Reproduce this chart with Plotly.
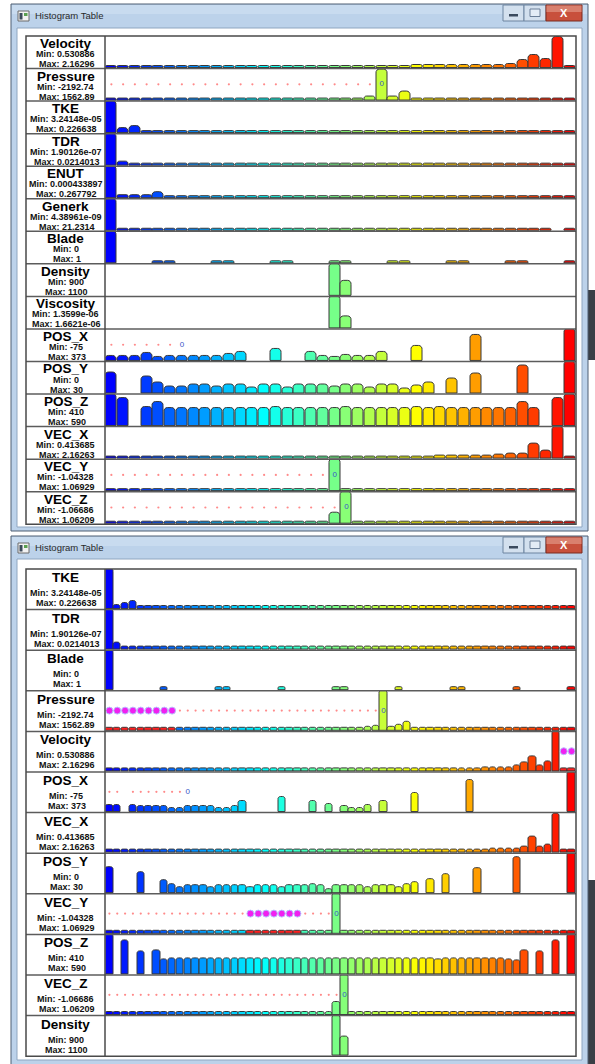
import plotly.graph_objects as go

W, H = 595, 1064
X = None

# ---------------- data: top window (40 bins) ----------------
TOP_NAMES = ["Velocity", "Pressure", "TKE", "TDR", "ENUT", "Generk", "Blade", "Density",
             "Viscosity", "POS_X", "POS_Y", "POS_Z", "VEC_X", "VEC_Y", "VEC_Z"]
TOP_MIN = ["0.530886", "-2192.74", "3.24148e-05", "1.90126e-07", "0.000433897", "4.38961e-09",
           "0", "900", "1.3599e-06", "-75", "0", "410", "0.413685", "-1.04328", "-1.06686"]
TOP_MAX = ["2.16296", "1562.89", "0.226638", "0.0214013", "0.267792", "21.2314",
           "1", "1100", "1.6621e-06", "373", "30", "590", "2.16263", "1.06929", "1.06209"]

T_VELOCITY = [0.06, 0.06, 0.06, 0.06, 0.06, 0.06, 0.06, 0.06, 0.06, 0.06,
              0.06, 0.06, 0.06, 0.06, 0.06, 0.06, 0.06, 0.06, 0.06, 0.06,
              0.06, 0.06, 0.06, 0.06, 0.06, 0.06, 0.07, 0.07, 0.07, 0.08,
              0.08, 0.08, 0.09, 0.09, 0.10, 0.25, 0.40, 0.28, 0.97, 0.06]
T_PRESSURE = [0.06, 0.06, 0.06, 0.06, 0.06, 0.06, 0.06, 0.06, 0.06, 0.06,
              0.06, 0.06, 0.06, 0.06, 0.06, 0.06, 0.06, 0.06, 0.06, 0.06,
              0.06, 0.06, 0.10, 0.97, 0.10, 0.27, 0.06, 0.06, 0.06, 0.06,
              0.06, 0.06, 0.06, 0.06, 0.06, 0.06, 0.06, 0.06, 0.06, 0.06]
T_TKE = [1.00, 0.16, 0.22, 0.06, 0.06, 0.06, 0.06, 0.06, 0.06, 0.06,
         0.06, 0.06, 0.06, 0.06, 0.06, 0.06, 0.06, 0.06, 0.06, 0.06,
         0.06, 0.06, 0.06, 0.06, 0.06, 0.06, 0.06, 0.06, 0.06, 0.06,
         0.06, 0.06, 0.06, 0.06, 0.06, 0.06, 0.06, 0.06, 0.06, 0.06]
T_TDR = [1.00, 0.10, 0.06, 0.06, 0.06, 0.06, 0.06, 0.06, 0.06, 0.06,
         0.06, 0.06, 0.06, 0.06, 0.06, 0.06, 0.06, 0.06, 0.06, 0.06,
         0.06, 0.06, 0.06, 0.06, 0.06, 0.06, 0.06, 0.06, 0.06, 0.06,
         0.06, 0.06, 0.06, 0.06, 0.06, 0.06, 0.06, 0.06, 0.06, 0.06]
T_ENUT = [1.00, 0.07, 0.08, 0.09, 0.17, 0.06, 0.06, 0.06, 0.06, 0.06,
          0.06, 0.06, 0.06, 0.06, 0.06, 0.06, 0.06, 0.06, 0.06, 0.06,
          0.06, 0.06, 0.06, 0.06, 0.06, 0.06, 0.06, 0.06, 0.06, 0.06,
          0.06, 0.06, 0.06, 0.06, 0.06, 0.06, 0.06, 0.06, 0.06, 0.06]
T_GENERK = [1.00, 0.06, 0.06, 0.06, 0.06, 0.06, 0.06, 0.06, 0.06, 0.06,
            0.06, 0.06, 0.06, 0.06, 0.06, 0.06, 0.06, 0.06, 0.06, 0.06,
            0.06, 0.06, 0.06, 0.06, 0.06, 0.06, 0.06, 0.06, 0.06, 0.06,
            0.06, 0.06, 0.06, 0.06, 0.06, 0.06, 0.06, 0.06, X, 0.06]
T_BLADE = [1.00, X, X, X, 0.06, 0.06, X, X, X, 0.06,
           0.06, X, X, X, 0.06, 0.06, X, X, X, 0.06,
           0.06, X, X, X, 0.06, 0.06, X, X, X, 0.06,
           0.06, X, X, X, 0.06, 0.06, X, X, X, 0.06]
T_DENSITY = [X, X, X, X, X, X, X, X, X, X,
             X, X, X, X, X, X, X, X, X, 1.00,
             0.45, X, X, X, X, X, X, X, X, X,
             X, X, X, X, X, X, X, X, X, X]
T_VISCOSITY = [X, X, X, X, X, X, X, X, X, X,
               X, X, X, X, X, X, X, X, X, 1.00,
               0.38, X, X, X, X, X, X, X, X, X,
               X, X, X, X, X, X, X, X, X, X]
T_POS_X = [0.16, 0.16, 0.16, 0.25, 0.12, 0.16, 0.16, 0.16, 0.16, 0.16,
           0.20, 0.28, X, X, 0.38, X, X, 0.28, 0.13, 0.10,
           0.18, 0.13, 0.15, 0.28, X, X, 0.47, X, X, X,
           X, 0.80, X, X, X, X, X, X, X, 1.00]
T_POS_Y = [0.64, X, X, 0.52, 0.33, 0.20, 0.20, 0.28, 0.28, 0.20,
           0.28, 0.28, 0.17, 0.28, 0.28, 0.17, 0.28, 0.28, 0.28, 0.20,
           0.28, 0.28, 0.17, 0.28, 0.28, 0.15, 0.25, 0.33, X, 0.45,
           X, 0.63, X, X, X, 0.88, X, X, X, 1.00]
T_POS_Z = [1.00, 0.87, X, 0.58, 0.75, 0.56, 0.56, 0.57, 0.56, 0.57,
           0.56, 0.57, 0.56, 0.57, 0.60, 0.57, 0.56, 0.57, 0.56, 0.57,
           0.60, 0.57, 0.56, 0.57, 0.56, 0.57, 0.60, 0.56, 0.60, 0.57,
           0.56, 0.57, 0.56, 0.57, 0.56, 0.75, 0.56, X, 0.87, 1.00]
T_VEC_X = [0.06, 0.06, 0.06, 0.06, 0.06, 0.06, 0.06, 0.06, 0.06, 0.06,
           0.06, 0.06, 0.06, 0.06, 0.06, 0.06, 0.06, 0.06, 0.06, 0.06,
           0.06, 0.06, 0.06, 0.06, 0.06, 0.06, 0.06, 0.06, 0.07, 0.07,
           0.07, 0.08, 0.08, 0.10, 0.14, 0.15, 0.47, 0.23, 1.00, 0.06]
T_VEC_Y = [0.06, 0.06, 0.06, 0.06, 0.06, 0.06, 0.06, 0.06, 0.06, 0.06,
           0.06, 0.06, 0.06, 0.06, 0.06, 0.06, 0.06, 0.06, 0.06, 1.00,
           0.06, 0.06, 0.06, 0.06, 0.06, 0.06, 0.06, 0.06, 0.06, 0.06,
           0.06, 0.06, 0.06, 0.06, 0.06, 0.06, 0.06, 0.06, 0.06, 0.06]
T_VEC_Z = [0.06, 0.06, 0.06, 0.06, 0.06, 0.06, 0.06, 0.06, 0.06, 0.06,
           0.06, 0.06, 0.06, 0.06, 0.06, 0.06, 0.06, 0.06, 0.06, 0.33,
           1.00, 0.06, 0.06, 0.06, 0.06, 0.06, 0.06, 0.06, 0.06, 0.06,
           0.06, 0.06, 0.06, 0.06, 0.06, 0.06, 0.06, 0.06, 0.06, 0.06]

TOP_VALUES = [T_VELOCITY, T_PRESSURE, T_TKE, T_TDR, T_ENUT, T_GENERK, T_BLADE, T_DENSITY,
              T_VISCOSITY, T_POS_X, T_POS_Y, T_POS_Z, T_VEC_X, T_VEC_Y, T_VEC_Z]
TOP_SELECTED = [[] for _ in TOP_NAMES]

# ---------------- data: bottom window (60 bins) ----------------
BOT_NAMES = ["TKE", "TDR", "Blade", "Pressure", "Velocity", "POS_X", "VEC_X", "POS_Y",
             "VEC_Y", "POS_Z", "VEC_Z", "Density"]
BOT_MIN = ["3.24148e-05", "1.90126e-07", "0", "-2192.74", "0.530886", "-75", "0.413685", "0",
           "-1.04328", "410", "-1.06686", "900"]
BOT_MAX = ["0.226638", "0.0214013", "1", "1562.89", "2.16296", "373", "2.16263", "30",
           "1.06929", "590", "1.06209", "1100"]

B_TKE = [1.00, 0.10, 0.13, 0.20, 0.06, 0.06, 0.06, 0.06, 0.06, 0.06,
         0.06, 0.06, 0.06, 0.06, 0.06, 0.06, 0.06, 0.06, 0.06, 0.06,
         0.06, 0.06, 0.06, 0.06, 0.06, 0.06, 0.06, 0.06, 0.06, 0.06,
         0.06, 0.06, 0.06, 0.06, 0.06, 0.06, 0.06, 0.06, 0.06, 0.06,
         0.06, 0.06, 0.06, 0.06, 0.06, 0.06, 0.06, 0.06, 0.06, 0.06,
         0.06, 0.06, 0.06, 0.06, 0.06, 0.06, 0.06, 0.06, 0.06, 0.06]
B_TDR = [1.00, 0.17, 0.06, 0.06, 0.06, 0.06, 0.06, 0.06, 0.06, 0.06,
         0.06, 0.06, 0.06, 0.06, 0.06, 0.06, 0.06, 0.06, 0.06, 0.06,
         0.06, 0.06, 0.06, 0.06, 0.06, 0.06, 0.06, 0.06, 0.06, 0.06,
         0.06, 0.06, 0.06, 0.06, 0.06, 0.06, 0.06, 0.06, 0.06, 0.06,
         0.06, 0.06, 0.06, 0.06, 0.06, 0.06, 0.06, 0.06, 0.06, 0.06,
         0.06, 0.06, 0.06, 0.06, 0.06, 0.06, 0.06, 0.06, 0.06, 0.06]
B_BLADE = [1.00, X, X, X, X, X, X, 0.06, X, X,
           X, X, X, X, 0.06, 0.06, X, X, X, X,
           X, X, 0.06, X, X, X, X, X, X, 0.06,
           0.06, X, X, X, X, X, X, 0.06, X, X,
           X, X, X, X, 0.06, 0.06, X, X, X, X,
           X, X, 0.06, X, X, X, X, X, X, 0.06]
B_PRESSURE = [0.06, 0.06, 0.06, 0.06, 0.06, 0.06, 0.06, 0.06, 0.06, 0.06,
              0.06, 0.06, 0.06, 0.06, 0.06, 0.06, 0.06, 0.06, 0.06, 0.06,
              0.06, 0.06, 0.06, 0.06, 0.06, 0.06, 0.06, 0.06, 0.06, 0.06,
              0.06, 0.06, 0.06, 0.08, 0.12, 1.00, 0.10, 0.13, 0.23, 0.06,
              0.06, 0.06, 0.06, 0.06, 0.06, 0.06, 0.06, 0.06, 0.06, 0.06,
              0.06, 0.06, 0.06, 0.06, 0.06, 0.06, 0.06, 0.06, 0.06, 0.06]
B_VELOCITY = [0.06, 0.06, 0.06, 0.06, 0.06, 0.06, 0.06, 0.06, 0.06, 0.06,
              0.06, 0.06, 0.06, 0.06, 0.06, 0.06, 0.06, 0.06, 0.06, 0.06,
              0.06, 0.06, 0.06, 0.06, 0.06, 0.06, 0.06, 0.06, 0.06, 0.06,
              0.06, 0.06, 0.06, 0.06, 0.06, 0.06, 0.06, 0.06, 0.06, 0.06,
              0.06, 0.06, 0.06, 0.06, 0.06, 0.07, 0.07, 0.07, 0.08, 0.08,
              0.09, 0.10, 0.13, 0.23, 0.38, 0.15, 0.24, 0.99, 0.06, 0.06]
B_POS_X = [0.16, 0.16, X, 0.16, 0.15, 0.14, 0.14, 0.14, 0.10, 0.10,
           0.15, 0.15, 0.15, 0.15, 0.10, 0.10, 0.14, 0.28, X, X,
           X, X, 0.37, X, X, X, 0.27, X, 0.19, X,
           0.13, 0.10, 0.10, 0.16, X, 0.27, X, X, X, 0.46,
           X, X, X, X, X, X, 0.80, X, X, X,
           X, X, X, X, X, X, X, X, X, 1.00]
B_VEC_X = [0.06, 0.06, 0.06, 0.06, 0.06, 0.06, 0.06, 0.06, 0.06, 0.06,
           0.06, 0.06, 0.06, 0.06, 0.06, 0.06, 0.06, 0.06, 0.06, 0.06,
           0.06, 0.06, 0.06, 0.06, 0.06, 0.06, 0.06, 0.06, 0.06, 0.06,
           0.06, 0.06, 0.06, 0.06, 0.06, 0.06, 0.06, 0.06, 0.06, 0.06,
           0.06, 0.06, 0.06, 0.06, 0.06, 0.06, 0.07, 0.07, 0.07, 0.08,
           0.08, 0.09, 0.10, 0.14, 0.40, 0.14, 0.18, 0.97, 0.06, 0.06]
B_POS_Y = [0.65, X, X, X, 0.52, X, X, 0.32, 0.21, 0.13,
           0.20, 0.20, 0.20, 0.15, 0.20, 0.20, 0.20, 0.20, 0.15, 0.20,
           0.20, 0.20, 0.15, 0.20, 0.20, 0.20, 0.21, 0.20, 0.10, 0.20,
           0.20, 0.20, 0.20, 0.13, 0.20, 0.20, 0.20, 0.13, 0.21, 0.26,
           X, 0.34, X, 0.46, X, X, X, 0.63, X, X,
           X, X, 0.90, X, X, X, X, X, X, 1.00]
B_VEC_Y = [0.06, 0.06, 0.06, 0.06, 0.06, 0.06, 0.06, 0.06, 0.06, 0.06,
           0.06, 0.06, 0.06, 0.06, 0.06, 0.06, 0.06, 0.06, 0.06, 0.06,
           0.06, 0.06, 0.06, 0.06, 0.06, 0.06, 0.06, 0.06, 0.06, 1.00,
           0.06, 0.06, 0.06, 0.06, 0.06, 0.06, 0.06, 0.06, 0.06, 0.06,
           0.06, 0.06, 0.06, 0.06, 0.06, 0.06, 0.06, 0.06, 0.06, 0.06,
           0.06, 0.06, 0.06, 0.06, 0.06, 0.06, 0.06, 0.06, 0.06, 0.06]
B_POS_Z = [1.00, X, 0.86, X, 0.57, X, 0.60, 0.38, 0.39, 0.40,
           0.39, 0.40, 0.39, 0.40, 0.39, 0.40, 0.40, 0.39, 0.40, 0.39,
           0.40, 0.39, 0.40, 0.40, 0.39, 0.40, 0.39, 0.40, 0.39, 0.40,
           0.39, 0.40, 0.39, 0.40, 0.40, 0.39, 0.40, 0.39, 0.40, 0.39,
           0.40, 0.39, 0.38, 0.40, 0.39, 0.40, 0.39, 0.40, 0.39, 0.40,
           0.39, 0.38, 0.35, 0.60, X, 0.57, X, 0.86, X, 1.00]
B_VEC_Z = [0.06, 0.06, 0.06, 0.06, 0.06, 0.06, 0.06, 0.06, 0.06, 0.06,
           0.06, 0.06, 0.06, 0.06, 0.06, 0.06, 0.06, 0.06, 0.06, 0.06,
           0.06, 0.06, 0.06, 0.06, 0.06, 0.06, 0.06, 0.06, 0.07, 0.32,
           1.00, 0.06, 0.06, 0.06, 0.06, 0.06, 0.06, 0.06, 0.06, 0.06,
           0.06, 0.06, 0.06, 0.06, 0.06, 0.06, 0.06, 0.06, 0.06, 0.06,
           0.06, 0.06, 0.06, 0.06, 0.06, 0.06, 0.06, 0.06, 0.06, 0.06]
B_DENSITY = [X, X, X, X, X, X, X, X, X, X,
             X, X, X, X, X, X, X, X, X, X,
             X, X, X, X, X, X, X, X, X, 1.00,
             0.46, X, X, X, X, X, X, X, X, X,
             X, X, X, X, X, X, X, X, X, X,
             X, X, X, X, X, X, X, X, X, X]

BOT_VALUES = [B_TKE, B_TDR, B_BLADE, B_PRESSURE, B_VELOCITY, B_POS_X, B_VEC_X, B_POS_Y,
              B_VEC_Y, B_POS_Z, B_VEC_Z, B_DENSITY]
B_PRESSURE_SEL = [0, 1, 2, 3, 4, 5, 6, 7, 8]
B_VELOCITY_SEL = [58, 59]
B_VEC_Y_SEL = [18, 19, 20, 21, 22, 23, 24]
BOT_SELECTED = [[], [], [], B_PRESSURE_SEL, B_VELOCITY_SEL, [], [], [], B_VEC_Y_SEL, [], [], []]


# ---------------- helpers ----------------
def ramp(t):
    stops = [(0.0, (0, 0, 255)), (1 / 3, (0, 255, 255)), (2 / 3, (255, 255, 0)), (1.0, (255, 0, 0))]
    for (t0, c0), (t1, c1) in zip(stops[:-1], stops[1:]):
        if t <= t1 + 1e-9:
            f = (t - t0) / (t1 - t0)
            return "rgb(%d,%d,%d)" % tuple(round(a + (b - a) * f) for a, b in zip(c0, c1))
    return "rgb(255,0,0)"


def px(x):
    return x / W


def py(y):
    return 1 - y / H


shapes = []
annos = []


def rect(x0, y0, x1, y1, fill=None, line=None, lw=1, layer="below"):
    shapes.append(dict(type="rect", xref="paper", yref="paper", x0=px(x0), x1=px(x1),
                       y0=py(y1), y1=py(y0), fillcolor=fill or "rgba(0,0,0,0)",
                       line=dict(color=line or "rgba(0,0,0,0)", width=lw if line else 0),
                       layer=layer))


def hline(x0, x1, y, color, lw, layer="below"):
    shapes.append(dict(type="line", xref="paper", yref="paper", x0=px(x0), x1=px(x1),
                       y0=py(y), y1=py(y), line=dict(color=color, width=lw), layer=layer))


def vline(x, y0, y1, color, lw, layer="below"):
    shapes.append(dict(type="line", xref="paper", yref="paper", x0=px(x), x1=px(x),
                       y0=py(y0), y1=py(y1), line=dict(color=color, width=lw), layer=layer))


def text(x, y, s, size, color="#000", anchor="center", family="Liberation Sans, Arial, sans-serif"):
    annos.append(dict(x=px(x), y=py(y), xref="paper", yref="paper", text=s, showarrow=False,
                      xanchor=anchor, yanchor="middle", font=dict(size=size, color=color, family=family)))


LEFT, SPLIT, RIGHT = 26, 105, 576

fig = go.Figure()
layout_axes = {}
axis_count = [0]


def draw_window(ftop, fbot, ctop, cbot, ttop, row_h, names, mins, maxs, values, selected,
                n, radius, name_dy, min_dy, max_dy):
    # window chrome
    rect(11, ftop, 588, fbot, fill="#bcd2ea", line="#4f5f72", lw=1)
    rect(12, ftop + 1, 587, ftop + 10, fill="#c8dbef")
    rect(17, ctop, 582, cbot, fill="#ffffff", line="#8fa6c0", lw=1)
    # icon
    rect(18, ftop + 7, 29, ftop + 17, fill="#f2f2f2", line="#6a6a6a", lw=1)
    rect(19.5, ftop + 9, 22.5, ftop + 15.5, fill="#3c4a5a")
    rect(24, ftop + 9, 27.5, ftop + 12, fill="#5aa050")
    text(33, ftop + 11, "Histogram Table", 9.5, "#2a2a2a", "left")
    # buttons
    rect(503, ftop + 1, 524, ftop + 17, fill="#d3e0ee", line="#6d84a0", lw=1)
    rect(524, ftop + 1, 546, ftop + 17, fill="#d3e0ee", line="#6d84a0", lw=1)
    rect(546, ftop + 1, 582, ftop + 17, fill="#c8503c", line="#7a2b1f", lw=1)
    rect(546.5, ftop + 1.5, 581.5, ftop + 8, fill="#d9806e")
    rect(509, ftop + 10, 518, ftop + 12.5, fill="#3a4a5e")
    rect(530, ftop + 5, 540, ftop + 12.5, fill="#e3ecf6", line="#6b7f98", lw=1)
    text(564, ftop + 9, "<b>X</b>", 11, "#ffffff")
    # table
    nrows = len(names)
    tbot = ttop + row_h * nrows
    rect(LEFT, ttop, RIGHT, tbot, fill="#ffffff")
    for r in range(nrows):
        rt = ttop + r * row_h
        rb = rt + row_h
        vals = values[r]
        sel = selected[r]
        axis_count[0] += 1
        k = axis_count[0]
        xa = "xaxis" if k == 1 else "xaxis%d" % k
        ya = "yaxis" if k == 1 else "yaxis%d" % k
        xr = "x" if k == 1 else "x%d" % k
        yr = "y" if k == 1 else "y%d" % k
        pad = 1.0 / row_h
        layout_axes[xa] = dict(domain=[px(SPLIT + 0.5), px(RIGHT - 0.5)], range=[-0.5, n - 0.5],
                               visible=False, anchor=yr, fixedrange=True)
        layout_axes[ya] = dict(domain=[py(rb), py(rt)], range=[-pad, 1.0],
                               visible=False, anchor=xr, fixedrange=True)
        colors = []
        for i in range(n):
            colors.append("#ff2020" if i in sel else ramp(i / (n - 1)))
        fig.add_trace(go.Bar(x=list(range(n)), y=vals, xaxis=xr, yaxis=yr, width=0.92,
                             marker=dict(color=colors, line=dict(color="#383838", width=1),
                                         cornerradius=radius),
                             hoverinfo="skip", showlegend=False))
        # zero marker and dotted guide for signed ranges
        mn, mx = float(mins[r]), float(maxs[r])
        if mn < 0 < mx:
            zb = int(-mn / (mx - mn) * n)
            dx = [i for i in range(zb) if vals[i] is not None and i not in sel]
            fig.add_trace(go.Scatter(x=dx, y=[0.5] * len(dx), xaxis=xr, yaxis=yr, mode="markers",
                                     marker=dict(size=2.2, color="#ff8a8a"),
                                     hoverinfo="skip", showlegend=False))
            fig.add_trace(go.Scatter(x=[zb], y=[0.5], xaxis=xr, yaxis=yr, mode="text", text=["0"],
                                     textfont=dict(size=8, color="#3a56c8",
                                                   family="Liberation Sans, Arial"),
                                     cliponaxis=False, hoverinfo="skip", showlegend=False))
        if sel:
            fig.add_trace(go.Scatter(x=sel, y=[0.5] * len(sel), xaxis=xr, yaxis=yr, mode="markers",
                                     marker=dict(size=7, color="#f020f0",
                                                 line=dict(color="#b8c0ff", width=1)),
                                     cliponaxis=False, hoverinfo="skip", showlegend=False))
        # labels
        cx = (LEFT + SPLIT) / 2
        text(cx, rt + name_dy, "<b>%s</b>" % names[r], 13.5, "#000")
        text(cx, rt + min_dy, "<b>Min: %s</b>" % mins[r], 9, "#111")
        text(cx + 1, rt + max_dy, "<b>Max: %s</b>" % maxs[r], 9, "#111")
        if r > 0:
            hline(LEFT, RIGHT, rt, "#5c5c5c", 1.5, layer="above")
    vline(SPLIT, ttop, tbot, "#4a4a4a", 1.5, layer="above")
    rect(LEFT, ttop, RIGHT, tbot, line="#4a4a4a", lw=1.5, layer="above")


# desktop strip behind the windows on the right
rect(588, 290, 595, 360, fill="#3a3f46")
rect(588, 880, 595, 1064, fill="#3a3f46")

draw_window(4, 531, 28, 527, 36, 32.55, TOP_NAMES, TOP_MIN, TOP_MAX, TOP_VALUES, TOP_SELECTED,
            40, 4, 7.5, 18, 28)
draw_window(536, 1075, 559, 1060, 569, 40.6, BOT_NAMES, BOT_MIN, BOT_MAX, BOT_VALUES, BOT_SELECTED,
            60, 3, 8.5, 24, 34)

fig.update_layout(width=W, height=H, margin=dict(l=0, r=0, t=0, b=0),
                  paper_bgcolor="#ffffff", plot_bgcolor="rgba(0,0,0,0)",
                  shapes=shapes, annotations=annos, barmode="overlay", bargap=0,
                  **layout_axes)
fig.write_html("out.html", config={"displayModeBar": False},
               post_script="document.body.style.margin='0';document.body.style.overflow='hidden';")
